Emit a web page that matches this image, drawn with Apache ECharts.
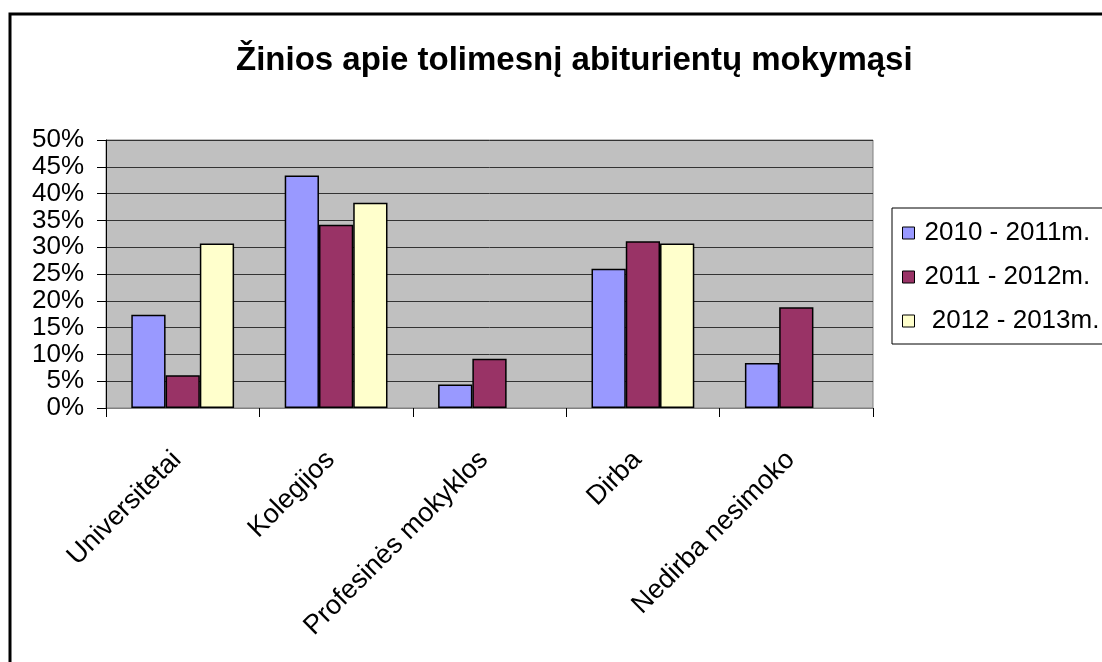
<!DOCTYPE html>
<html>
<head>
<meta charset="utf-8">
<script src="https://cdn.jsdelivr.net/npm/echarts@6/dist/echarts.min.js"></script>
<style>
  html, body { margin: 0; padding: 0; background: #fff; }
  #main { width: 1102px; height: 662px; }
</style>
</head>
<body>
<div id="main"></div>
<script>
var categories = ["Universitetai", "Kolegijos", "Profesinės mokyklos", "Dirba", "Nedirba nesimoko"];
var seriesNames = ["2010 - 2011m.", "2011 - 2012m.", " 2012 - 2013m."];
var values2010 = [17.4, 43.4, 4.4, 26.0, 8.4];
var values2011 = [6.1, 34.2, 9.2, 31.1, 18.8];
var values2012 = [30.7, 38.3, null, 30.7, null];
var colors = ["#9999ff", "#993366", "#ffffcc"];

var font = "'Liberation Sans', Arial, sans-serif";
var chart = echarts.init(document.getElementById("main"));

var allValues = [values2010, values2011, values2012];
var series = allValues.map(function (vals, i) {
    return {
        name: seriesNames[i],
        type: "bar",
        data: vals,
        barGap: "0%",
        barCategoryGap: "33%",
        itemStyle: { color: colors[i], borderColor: "#000", borderWidth: 1.5 },
        emphasis: { disabled: true }
    };
});

chart.setOption({
    animation: false,
    backgroundColor: "#fff",
    title: {
        text: "Žinios apie tolimesnį abiturientų mokymąsi",
        left: 231,
        top: 39,
        textStyle: { fontFamily: font, fontSize: 33, fontWeight: "bold", color: "#000" }
    },
    graphic: [{
        type: "polyline",
        shape: { points: [[10, 700], [10, 14], [1200, 14]] },
        style: { stroke: "#000", lineWidth: 3, fill: null },
        silent: true
    }],
    legend: {
        orient: "vertical",
        left: 892,
        top: 208,
        padding: [12, 10, 10, 10],
        itemGap: 18,
        itemWidth: 12,
        itemHeight: 12,
        borderColor: "#000",
        borderWidth: 1,
        icon: "rect",
        data: seriesNames,
        itemStyle: { borderColor: "#000", borderWidth: 1 },
        textStyle: { fontFamily: font, fontSize: 26, color: "#000", padding: [0, 0, 0, 5] }
    },
    grid: {
        left: 106,
        right: 229,
        top: 140,
        bottom: 254,
        show: true,
        backgroundColor: "#c0c0c0",
        borderColor: "#808080",
        borderWidth: 1
    },
    xAxis: {
        type: "category",
        data: categories,
        axisLine: { lineStyle: { color: "#808080", width: 1 } },
        axisTick: { show: true, length: 9, alignWithLabel: false, lineStyle: { color: "#000" } },
        axisLabel: {
            interval: 0,
            rotate: 45,
            margin: 42,
            padding: [0, 8, 0, 0],
            fontFamily: font,
            fontSize: 27,
            color: "#000"
        }
    },
    yAxis: {
        type: "value",
        min: 0,
        max: 50,
        interval: 5,
        axisLine: { show: true, lineStyle: { color: "#000", width: 1 } },
        axisTick: { show: true, length: 9, lineStyle: { color: "#000" } },
        splitLine: { show: true, lineStyle: { color: "#333", width: 1 } },
        axisLabel: {
            formatter: "{value}%",
            margin: 22,
            fontFamily: font,
            fontSize: 26,
            color: "#000",
            lineHeight: 26
        }
    },
    series: series
});
</script>
</body>
</html>
